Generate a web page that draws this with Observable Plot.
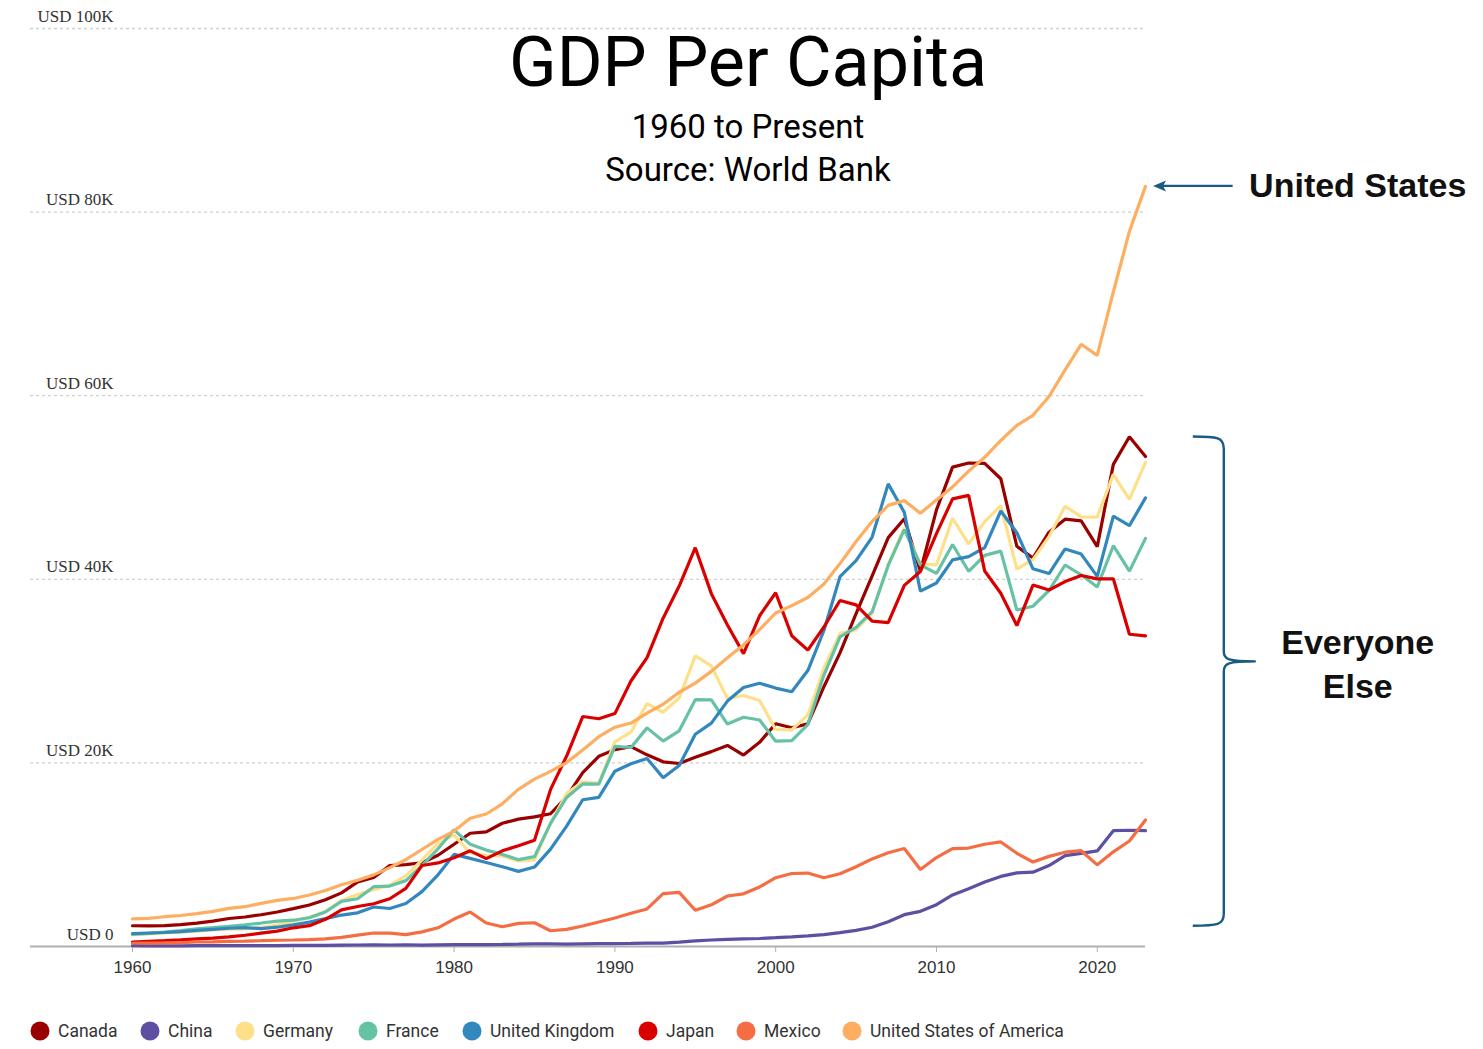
<!DOCTYPE html>
<html>
<head>
<meta charset="utf-8">
<script src="https://cdn.jsdelivr.net/npm/d3@7"></script>
<script src="https://cdn.jsdelivr.net/npm/@observablehq/plot@0.6"></script>
<style>
  body { margin: 0; background: #fff; }
  #chart { width: 1483px; height: 1049px; }
</style>
</head>
<body>
<div id="chart"></div>
<script>
// ---------- data ----------
const years = d3.range(1960, 2024);
const countries = ["Canada", "China", "Germany", "France", "United Kingdom", "Japan", "Mexico", "United States of America"];
const colors = ["#990000", "#5e4fa2", "#fee08b", "#66c2a5", "#3288bd", "#d90000", "#f46d43", "#fdae61"];

const canada = [2259,2240,2269,2374,2555,2770,3047,3217,3462,3763,
  4122,4520,5090,5839,7033,7511,8809,8919,9124,9939,
  11135,12337,12482,13425,13878,14114,14460,16310,18936,20716,
  21448,21768,20880,20121,19935,20614,21228,21903,20848,22237,
  24271,23822,24255,28300,31988,36267,40386,44543,46596,40876,
  47562,52224,52670,52635,50956,43596,42316,45129,46549,46374,
  43562,52515,55522,53372];
const china = [90,76,71,75,86,99,105,97,92,101,
  114,120,133,158,161,180,166,190,157,183,
  195,197,204,224,251,294,282,252,284,311,
  318,334,367,377,473,610,709,782,829,873,
  959,1053,1149,1289,1509,1753,2099,2694,3468,3832,
  4550,5614,6301,7020,7636,8016,8094,8817,9905,10144,
  10409,12618,12663,12614];
const germany = [1250,1370,1480,1560,1680,1800,1900,1930,2080,2330,
  2761,3194,3823,5021,5651,6195,6682,7683,9398,11237,
  12138,10209,9914,9864,9313,9429,13463,16677,17931,17764,
  22304,23357,26457,25519,27080,31659,30564,27013,27341,26796,
  23636,23608,25205,30310,34107,34520,36354,41640,45613,41650,
  41572,46645,43858,46286,48024,41103,42136,44653,47960,46795,
  46773,51426,48718,52746];
const france = [1334,1428,1578,1740,1922,2046,2200,2368,2556,2773,
  2863,3134,3760,4913,5200,6513,6587,7177,8815,10648,
  12710,11127,10500,10033,9459,9783,13408,16239,17707,17694,
  21795,21676,23815,22381,23497,26890,26871,24228,24973,24674,
  22364,22434,24177,29568,33741,34760,36470,41508,45413,41575,
  40638,43791,40875,42603,43069,36653,37063,38781,41557,40494,
  39169,43659,40886,44461];
const uk = [1398,1472,1525,1613,1748,1874,1986,2058,1951,2101,
  2348,2650,3030,3426,3666,4300,4139,4681,5977,7805,
  10033,9600,9147,8692,8180,8652,10612,13119,15987,16239,
  19095,19901,20487,18389,19709,23123,24332,26734,28214,28670,
  28150,27745,30057,34420,40290,42030,44599,50398,47287,38713,
  39599,42110,42465,43449,47440,45071,41146,40622,43306,42747,
  40318,46870,45850,48867];
const japan = [475,564,633,718,835,919,1058,1228,1450,1669,
  2037,2272,2967,3997,4354,4659,5198,6335,8821,9105,
  9659,10421,9575,10421,10979,11585,17112,20745,25052,24813,
  25371,28925,31465,35766,39269,43440,38437,35022,31903,36027,
  38532,33846,32289,34808,37688,37218,35434,35275,39339,40855,
  44968,48760,49145,40898,38475,34961,39375,38834,39751,40416,
  40040,40059,34017,33834];
const mexico = [356,372,389,425,491,511,553,586,632,683,
  707,755,839,986,1240,1473,1454,1301,1589,2035,
  2990,3759,2556,2146,2515,2590,1717,1866,2230,2667,
  3110,3623,4089,5757,5891,3952,4541,5499,5739,6487,
  7494,7953,8002,7482,7919,8686,9544,10213,10672,8382,
  9686,10655,10725,11139,11389,10151,9207,9817,10273,10434,
  8896,10316,11497,13790];
const usa = [3007,3067,3244,3375,3574,3828,4146,4336,4696,5032,
  5234,5609,6094,6726,7226,7801,8592,9453,10565,11674,
  12575,13976,14434,15544,17121,18237,19071,20039,21417,22857,
  23889,24342,25419,26387,27695,28691,29968,31459,32854,34515,
  36330,37134,38023,39496,41713,44115,46299,48050,48570,47195,
  48651,50066,51784,53291,55124,56763,57867,59915,62805,65600,
  64400,71300,77900,82800];

const series = [canada, china, germany, france, uk, japan, mexico, usa];
const yTicks = [0, 20000, 40000, 60000, 80000, 100000];
const yTickLabels = ["USD 0", "USD 20K", "USD 40K", "USD 60K", "USD 80K", "USD 100K"];
const xTicks = [1960, 1970, 1980, 1990, 2000, 2010, 2020];

const titleText = "GDP Per Capita";
const subtitleLines = ["1960 to Present", "Source: World Bank"];
const usLabel = "United States";
const othersLabel = ["Everyone", "Else"];
const braceRange = [55500, 2200];   // value span of the "Everyone Else" brace
const braceTip = 31000;

// ---------- table ----------
const rows = countries.flatMap((c, i) => years.map((yr, j) => ({country: c, year: yr, value: series[i][j]})));

// ---------- plot ----------
const plot = Plot.plot({
  width: 1483,
  height: 1049,
  marginLeft: 30,
  marginRight: 338,
  marginTop: 28,
  marginBottom: 103,
  style: {fontFamily: "Liberation Sans, Arial, sans-serif", background: "#fff"},
  x: {domain: [1960, 2023], range: [132, 1145], axis: null},
  y: {domain: [0, 100000], range: [946, 28], axis: null},
  color: {domain: countries, range: colors},
  marks: [
    Plot.ruleY(yTicks.filter(d => d > 0), {stroke: "#d0d0d0", strokeWidth: 1.3, strokeDasharray: "3,3"}),
    Plot.ruleY([0], {stroke: "#b0b0b0", strokeWidth: 2}),
    Plot.text(yTicks, {
      y: d => d, text: (d, i) => yTickLabels[i],
      frameAnchor: "left", dx: 83, dy: -7, textAnchor: "end", lineAnchor: "bottom",
      fontFamily: "Liberation Serif, Times New Roman, serif", fontSize: 17, fill: "#333"
    }),
    Plot.axisX({
      ticks: xTicks, tickFormat: d => String(d), tickSize: 6, tickPadding: 8,
      stroke: "#b0b0b0", fill: "#333", fontSize: 17, label: null
    }),
    Plot.lineY(rows, {x: "year", y: "value", z: "country", stroke: "country", strokeWidth: 3.2, strokeLinejoin: "miter"}),
    Plot.text([usLabel], {
      x: 2036.2, y: usa[usa.length - 1], text: d => d,
      fontSize: 34, fontWeight: "bold", fill: "#111", fontFamily: "Liberation Sans, Arial, sans-serif"
    }),
    Plot.text([othersLabel.join("\n")], {
      x: 2036.2, y: braceTip, text: d => d, lineHeight: 1.3,
      fontSize: 34, fontWeight: "bold", fill: "#111", fontFamily: "Liberation Sans, Arial, sans-serif"
    })
  ]
});

document.getElementById("chart").appendChild(plot);

// ---------- annotations (positioned through the plot's scales) ----------
const svg = d3.select(plot);
const xs = plot.scale("x"), ys = plot.scale("y");
const annColor = "#1b5b82";

// arrow pointing at the last US value
const ay = ys.apply(usa[usa.length - 1]);
const ax1 = xs.apply(2028.45), ax2 = xs.apply(2023.5);
svg.append("line").attr("x1", ax1).attr("x2", ax2 + 8).attr("y1", ay).attr("y2", ay)
  .attr("stroke", annColor).attr("stroke-width", 2.2);
svg.append("path").attr("d", `M${ax2},${ay} L${ax2 + 13},${ay - 5.5} L${ax2 + 10},${ay} L${ax2 + 13},${ay + 5.5} Z`)
  .attr("fill", annColor);

// curly brace
const bx = xs.apply(2027.9);
const bt = ys.apply(braceRange[0]), bb = ys.apply(braceRange[1]), bm = ys.apply(braceTip);
const bracePath = [
  `M${bx - 31},${bt} C${bx - 6},${bt} ${bx},${bt + 1} ${bx},${bt + 12}`,
  `L${bx},${bm - 10} C${bx},${bm - 2} ${bx + 4},${bm} ${bx + 32},${bm}`,
  `M${bx + 32},${bm} C${bx + 4},${bm} ${bx},${bm + 2} ${bx},${bm + 10}`,
  `L${bx},${bb - 12} C${bx},${bb - 1} ${bx - 6},${bb} ${bx - 31},${bb}`
].join(" ");
svg.append("path").attr("d", bracePath).attr("fill", "none")
  .attr("stroke", annColor).attr("stroke-width", 2.4);

// title and subtitle
svg.append("text").attr("x", 748).attr("y", 86).attr("text-anchor", "middle")
  .style("font-family", "Roboto, sans-serif").style("font-size", "70px").attr("fill", "#000").text(titleText);
subtitleLines.forEach((t, i) => {
  svg.append("text").attr("x", 748).attr("y", 138 + i * 43).attr("text-anchor", "middle")
    .style("font-family", "Roboto, sans-serif").style("font-size", "33px").attr("fill", "#000").text(t);
});

// legend with circle swatches
const legendCx = [40, 150, 245, 368, 472, 648, 746, 852];
const lg = svg.append("g").attr("transform", "translate(0,1031)");
countries.forEach((c, i) => {
  lg.append("circle").attr("cx", legendCx[i]).attr("cy", 0).attr("r", 9.5).attr("fill", colors[i]);
  lg.append("text").attr("x", legendCx[i] + 18).attr("y", 0).attr("dy", "0.35em")
    .attr("text-anchor", "start")
    .style("font-family", "Roboto, sans-serif").style("font-size", "17.5px").attr("fill", "#333").text(c);
});
</script>
</body>
</html>
